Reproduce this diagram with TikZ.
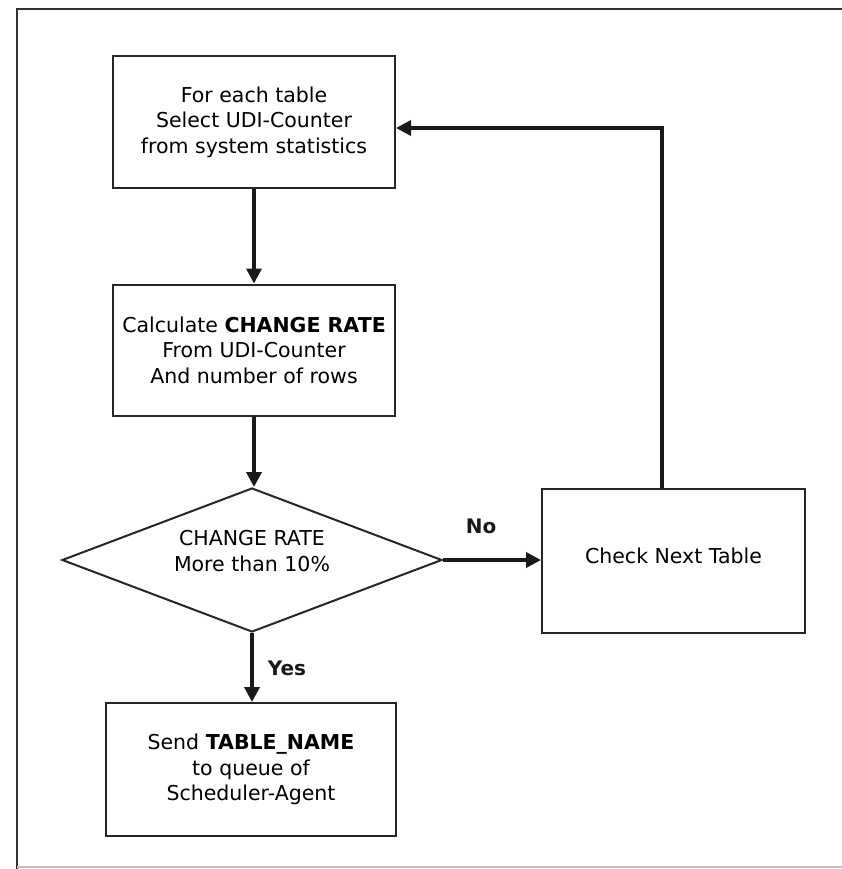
\documentclass[tikz,border=0pt]{standalone}
\usepackage{fontspec}
\setmainfont{DejaVu Sans}
\usetikzlibrary{arrows.meta,shapes.geometric}
\begin{document}
\begin{tikzpicture}[x=1pt,y=-1pt,
  txt/.style={font=\fontsize{20.5}{25.5}\selectfont,align=center},
  box/.style={txt,draw=black!85,line width=2pt,rectangle,inner sep=0pt},
  decision/.style={draw=black!85,line width=2pt,diamond,inner sep=0pt},
  flow/.style={draw=black!90,line width=3.5pt,-{Triangle[length=15pt,width=15pt]}},
  lbl/.style={font=\fontsize{20}{22}\selectfont\bfseries,text=black!90},
  frame/.style={draw=black!80,line width=2.5pt}]
\useasboundingbox (0,0) rectangle (842,869);

% outer frame
\draw[frame] (17,869) -- (17,9) -- (842,9);
\draw[draw=black!25,line width=1.5pt] (17,867) -- (842,867);

% process steps
\node[box,minimum width=282pt,minimum height=132pt] (select) at (254,122)
  {For each table\\Select UDI-Counter\\from system statistics};
\node[box,minimum width=282pt,minimum height=131pt] (calc) at (254,350)
  {Calculate \textbf{CHANGE RATE}\\From UDI-Counter\\And number of rows};
\node[decision,minimum width=380pt,minimum height=144pt] (test) at (252,560) {};
\node[txt] (testtext) at (252,551) {CHANGE RATE\\More than 10\%};
\node[box,minimum width=263pt,minimum height=144pt] (next) at (673.5,561) {};
\node[txt] (nexttext) at (673.5,556) {Check Next Table};
\node[box,minimum width=290pt,minimum height=133pt] (send) at (251,769.5)
  {Send \textbf{TABLE\_NAME}\\to queue of\\Scheduler-Agent};

% connectors
\coordinate (turn) at (662,128);
\draw[flow] (select.south -| 254,0) -- (calc.north -| 254,0);
\draw[flow] (calc.south -| 254,0) -- (calc.south |- test.north);
\draw[flow] (test.east) -- (next.west |- test.east);
\draw[flow] (test.south) -- (send.north -| test.south);
\draw[flow] (next.north -| turn) -- (turn) -- (select.east |- turn);

% branch labels
\node[lbl] (no) at (481,526) {No};
\node[lbl] (yes) at (287,668) {Yes};
\end{tikzpicture}
\end{document}
